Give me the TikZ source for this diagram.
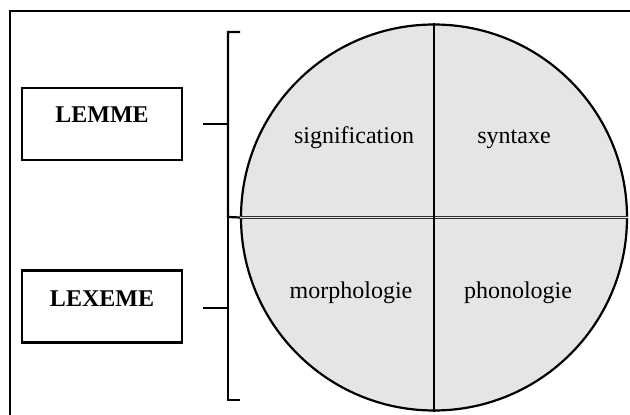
\documentclass[tikz,border=0pt]{standalone}
\usepackage{fontspec}
\setmainfont{Liberation Serif}
\usetikzlibrary{positioning}

\begin{document}
\begin{tikzpicture}[x=0.5pt, y=-0.5pt,
	every node/.style={font=\fontsize{12}{14}\selectfont, inner sep=0pt},
	termbox/.style={draw, line width=1.1pt, minimum width=80pt, minimum height=36pt},
	term/.style={font=\fontsize{12}{14}\selectfont\bfseries, anchor=base},
	part/.style={anchor=base},
	brack/.style={line width=1.1pt}]
	\useasboundingbox (0,0) rectangle (630,415);
	% frame
	\draw[line width=0.75pt] (10,415) -- (10,11) -- (630,11);
	% the circle
	\node[circle, draw, line width=1.1pt, fill=gray!20, minimum size=193pt](disc) at (434,217.5) {};
	\draw[draw=gray!40!black, double=gray!25, line width=0.55pt, double distance=0.8pt] (disc.west) -- (disc.east);
	\draw[line width=1.1pt] (disc.north) -- (disc.south);
	\node[part](signif) at (354,144) {signification};
	\node[part](syntaxe) at (514,144) {syntaxe};
	\node[part](morpho) at (351,299) {morphologie};
	\node[part](phono) at (518,299) {phonologie};
	% boxes
	\node[termbox](lemmebox) at (102,124) {};
	\node[term](lemme) at (102,123) {LEMME};
	\node[termbox](lexemebox) at (102,306.5) {};
	\node[term](lexeme) at (102,307) {LEXEME};
	% brackets
	\coordinate (utop) at (240,32);
	\coordinate (umid) at (228,124);
	\coordinate (join) at (228,217);
	\coordinate (lmid) at (228,308);
	\coordinate (lbot) at (240,400);
	\draw[brack] (utop) -- (utop -| join) -- (join) -- (disc.west);
	\draw[brack] (join) -- (lbot -| join) -- (lbot);
	\draw[brack] ([xshift=10pt]lemmebox.east) -- (umid);
	\draw[brack] ([xshift=10pt]lexemebox.east |- lmid) -- (lmid);
\end{tikzpicture}
\end{document}
